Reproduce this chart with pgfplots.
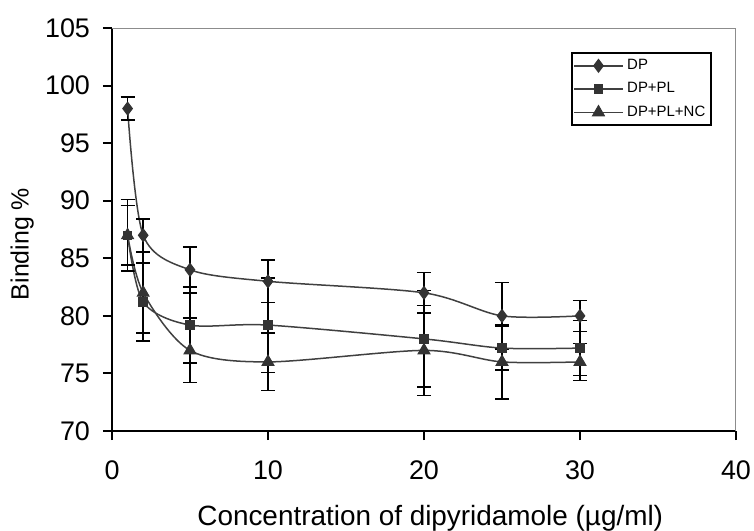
\documentclass[border=0pt]{standalone}
\usepackage{fontspec}
\setmainfont{Liberation Sans}
\usepackage{pgfplots}
\pgfplotsset{compat=1.18}

\definecolor{linegray}{RGB}{64,64,64}
\definecolor{markgray}{RGB}{51,51,51}
\definecolor{framegray}{RGB}{140,140,140}

\begin{document}
\begin{tikzpicture}
\useasboundingbox (-56bp,-50bp) rectangle (321bp,215.5bp);
\begin{axis}[
  scale only axis,
  width=312bp, height=201.5bp,
  xmin=0, xmax=40, ymin=70, ymax=105,
  xtick={0,10,20,30,40},
  ytick={70,75,80,85,90,95,100,105},
  axis lines=left,
  axis line style={-, black, line width=1bp},
  tick align=outside,
  major tick length=4.5bp,
  tick style={black, line width=1bp},
  /pgf/number format/assume math mode=true,
  tick label style={font=\fontsize{13.5}{15}\selectfont},
  xticklabel style={yshift=-7bp},
  yticklabel style={xshift=-3bp},
  xlabel={Concentration of dipyridamole (µg/ml)},
  ylabel={Binding \%},
  label style={font=\fontsize{12.5}{14}\selectfont},
  xlabel style={font=\fontsize{14}{16}\selectfont, at={(axis description cs:0.51,0)}, anchor=north, yshift=-33.5bp},
  ylabel style={at={(axis description cs:-0.144,0.464)}, anchor=center},
  legend cell align={left},
  legend style={
    font=\fontsize{7.5}{8.5}\selectfont,
    at={(0.962,0.94)}, anchor=north east,
    draw=black, line width=1bp,
    inner sep=1bp, row sep=1bp
  },
  legend image code/.code={
    \draw[mark repeat=2, mark phase=2, #1] plot coordinates {(0bp,0bp) (12bp,0bp) (24bp,0bp)};
  },
  error bars/error bar style={black, line width=0.75bp},
  error bars/error mark options={rotate=90, black, mark size=3.5bp, line width=0.75bp},
]
\draw[framegray, line width=0.5bp] (rel axis cs:0,1) -- (rel axis cs:1,1) -- (rel axis cs:1,0);

\addplot[smooth, tension=0.5, linegray, line width=0.75bp,
  mark=diamond*, mark size=3.2bp,
  mark options={solid, fill=markgray, draw=markgray, line width=0.5bp},
  error bars/.cd, y dir=both, y explicit]
coordinates {
  (1,98) +- (0,1.0)
  (2,87) +- (0,1.4)
  (5,84) +- (0,2.0)
  (10,83) +- (0,1.85)
  (20,82) +- (0,1.75)
  (25,80) +- (0,2.9)
  (30,80) +- (0,1.35)
};
\addlegendentry{DP}

\addplot[smooth, tension=0.5, linegray, line width=0.75bp,
  mark=square*, mark size=2.1bp,
  mark options={solid, fill=markgray, draw=markgray, line width=0.5bp},
  error bars/.cd, y dir=both, y explicit]
coordinates {
  (1,87) +- (0,3.1)
  (2,81.2) +- (0,3.4)
  (5,79.2) +- (0,3.3)
  (10,79.2) +- (0,4.1)
  (20,78) +- (0,4.2)
  (25,77.2) +- (0,1.9)
  (30,77.2) +- (0,2.4)
};
\addlegendentry{DP+PL}

\addplot[smooth, tension=0.5, linegray, line width=0.75bp,
  mark=triangle*, mark size=3.4bp,
  mark options={solid, fill=markgray, draw=markgray, line width=0.5bp},
  error bars/.cd, y dir=both, y explicit]
coordinates {
  (1,87) +- (0,2.6)
  (2,82) +- (0,3.5)
  (5,77) +- (0,2.8)
  (10,76) +- (0,2.5)
  (20,77) +- (0,3.9)
  (25,76) +- (0,3.2)
  (30,76) +- (0,1.6)
};
\addlegendentry{DP+PL+NC}
\end{axis}
\end{tikzpicture}
\end{document}
